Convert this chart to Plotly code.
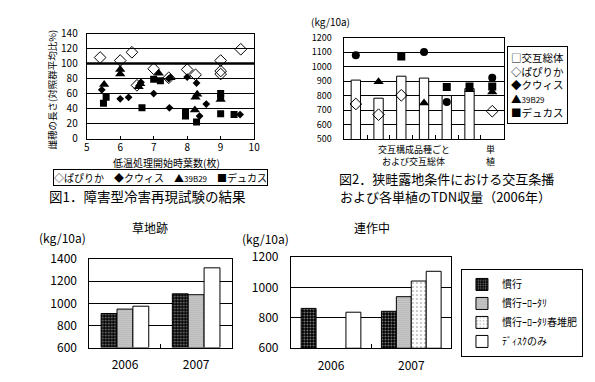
import plotly.graph_objects as go

W, H = 595, 382
def px(x): return x / W
def py(y): return 1 - y / H

FONT = "Noto Sans CJK JP"

# ---------------- Chart 1 data (図1) ----------------
papirika_x = [5.4, 6.0, 6.35, 6.5, 7.0, 7.45, 8.0, 8.25, 9.0, 9.0, 9.0, 9.6]
papirika_y = [108, 104, 115, 71, 93, 81, 92, 85, 104, 90, 86, 119]
quwis_x = [5.45, 6.0, 6.25, 6.62, 7.0, 7.45, 7.47, 8.0, 8.28, 8.37, 8.57, 9.58]
quwis_y = [65, 53, 55, 75, 60, 80, 41, 82, 74, 30, 46, 32]
b39_x = [5.52, 6.0, 6.0, 6.55, 6.6, 7.15, 7.5, 8.23, 8.25, 8.3, 9.0]
b39_y = [72, 92, 86, 69, 73, 87, 81, 38, 55, 59, 52]
ducas_x = [5.5, 5.58, 6.65, 7.0, 7.2, 7.95, 7.95, 8.28, 9.0, 9.0, 9.0, 9.4]
ducas_y = [47, 55, 41, 79, 77, 35, 30, 22, 60, 56, 33, 32]

# ---------------- Chart 2 data (図2) ----------------
c2_pos = [1, 2, 3, 4, 5, 6, 7]
c2_total = [907, 782, 934, 921, 800, 848, None]
c2_papirika = [742, 668, 802, None, None, None, 692]
c2_quwis = [1079, None, None, 1101, 755, None, 923]
c2_b39 = [None, 896, None, 749, None, 841, 824]
c2_ducas = [None, None, 1070, None, 859, 863, 863]

# ---------------- Bottom charts data ----------------
years = ["2006", "2007"]
sochi_kanko = [908, 1086]
sochi_rotary = [948, 1078]
sochi_disk = [974, 1321]
ren_kanko = [862, 843]
ren_rotary = [None, 939]
ren_compost = [None, 1042]
ren_disk = [837, 1106]

names_bottom = ["慣行", "慣行ｰﾛｰﾀﾘ", "慣行ｰﾛｰﾀﾘ春堆肥", "ﾃﾞｨｽｸのみ"]
BASE = 600

fig = go.Figure()

# Chart 1 scatter
fig.add_trace(go.Scatter(x=papirika_x, y=papirika_y, mode="markers", xaxis="x", yaxis="y",
                         marker=dict(symbol="diamond-open", size=9, color="black", line=dict(width=1)),
                         showlegend=False, name="ぱぴりか"))
fig.add_trace(go.Scatter(x=quwis_x, y=quwis_y, mode="markers", xaxis="x", yaxis="y",
                         marker=dict(symbol="diamond", size=6, color="black"),
                         showlegend=False, name="クウィス"))
fig.add_trace(go.Scatter(x=b39_x, y=b39_y, mode="markers", xaxis="x", yaxis="y",
                         marker=dict(symbol="triangle-up", size=9, color="black"),
                         showlegend=False, name="39B29"))
fig.add_trace(go.Scatter(x=ducas_x, y=ducas_y, mode="markers", xaxis="x", yaxis="y",
                         marker=dict(symbol="square", size=7, color="black"),
                         showlegend=False, name="デュカス"))

# Chart 2
fig.add_trace(go.Bar(x=c2_pos, y=c2_total, xaxis="x2", yaxis="y2", width=0.41,
                     marker=dict(color="white", line=dict(color="black", width=1)),
                     showlegend=False, name="交互総体"))
fig.add_trace(go.Scatter(x=c2_pos, y=c2_papirika, mode="markers", xaxis="x2", yaxis="y2",
                         marker=dict(symbol="diamond-open", size=9, color="black", line=dict(width=1)),
                         showlegend=False))
fig.add_trace(go.Scatter(x=c2_pos, y=c2_quwis, mode="markers", xaxis="x2", yaxis="y2",
                         marker=dict(symbol="circle", size=8, color="black"), showlegend=False))
fig.add_trace(go.Scatter(x=c2_pos, y=c2_b39, mode="markers", xaxis="x2", yaxis="y2",
                         marker=dict(symbol="triangle-up", size=9, color="black"), showlegend=False))
fig.add_trace(go.Scatter(x=c2_pos, y=c2_ducas, mode="markers", xaxis="x2", yaxis="y2",
                         marker=dict(symbol="square", size=8, color="black"), showlegend=False))

# bar patterns
pat = [
    dict(shape=".", bgcolor="black", fgcolor="white", size=3, solidity=0.3),
    dict(shape=".", bgcolor="white", fgcolor="black", size=2, solidity=0.55),
    dict(shape=".", bgcolor="white", fgcolor="black", size=4, solidity=0.12),
    dict(shape="", bgcolor="white", fgcolor="white"),
]

def rel(vals):
    return [None if v is None else v - BASE for v in vals]

# Chart 3 (草地跡)
w3 = 0.223
for vals, pi, off in [(sochi_kanko, 0, -0.335), (sochi_rotary, 1, -0.112), (sochi_disk, 3, 0.111)]:
    fig.add_trace(go.Bar(x=years, y=rel(vals), base=BASE, xaxis="x3", yaxis="y3", width=w3, offset=off,
                         marker=dict(color="white", pattern=pat[pi], line=dict(color="black", width=1)),
                         showlegend=False, name=names_bottom[pi]))

# Chart 4 (連作中)
w4 = 0.186
for vals, pi, off in [(ren_kanko, 0, -0.372), (ren_rotary, 1, -0.186), (ren_compost, 2, 0.0), (ren_disk, 3, 0.186)]:
    fig.add_trace(go.Bar(x=years, y=rel(vals), base=BASE, xaxis="x4", yaxis="y4", width=w4, offset=off,
                         marker=dict(color="white", pattern=pat[pi], line=dict(color="black", width=1)),
                         showlegend=True, name=names_bottom[pi]))

def tf(size):
    return dict(family=FONT, size=size, color="black")

axis_common = dict(showline=True, mirror=True, linecolor="black", linewidth=1, zeroline=False)

fig.update_layout(
    width=W, height=H, margin=dict(l=0, r=0, t=0, b=0),
    paper_bgcolor="white", plot_bgcolor="white",
    barmode="overlay",
    font=dict(family=FONT, color="black"),
    xaxis=dict(domain=[px(85), px(255)], anchor="y", range=[5, 10], dtick=1, ticks="inside", ticklen=3,
               tickcolor="black", showgrid=False, tickfont=tf(10), ticklabelstandoff=-1, **axis_common),
    yaxis=dict(domain=[py(134.6), py(24.6)], anchor="x", range=[0, 140], dtick=20, showgrid=True,
               gridcolor="black", gridwidth=1, ticks="", ticklabelstandoff=6, tickfont=tf(10), **axis_common),
    xaxis2=dict(domain=[px(346.7), px(508.3)], anchor="y2", range=[0.5, 7.5], tickvals=[1.5, 2.5, 3.5, 4.5, 5.5, 6.5],
                ticktext=[""] * 6, ticks="inside", ticklen=4, tickcolor="black", showgrid=False, **axis_common),
    yaxis2=dict(domain=[py(135), py(29)], anchor="x2", range=[500, 1200], dtick=100, showgrid=True,
                gridcolor="black", gridwidth=1, ticks="", ticklabelstandoff=10, tickfont=tf(9), **axis_common),
    xaxis3=dict(domain=[px(87.7), px(232.3)], anchor="y3", type="category", tickson="boundaries",
                ticks="inside", ticklen=4, tickcolor="black", showgrid=False, ticklabelstandoff=6,
                tickfont=tf(12), **axis_common),
    yaxis3=dict(domain=[py(353.3), py(260.7)], anchor="x3", range=[600, 1400], dtick=200, showgrid=True,
                gridcolor="black", gridwidth=1, ticks="", ticklabelstandoff=9, tickfont=tf(12), **axis_common),
    xaxis4=dict(domain=[px(292.3), px(455.3)], anchor="y4", type="category", tickson="boundaries",
                ticks="inside", ticklen=4, tickcolor="black", showgrid=False, ticklabelstandoff=6,
                tickfont=tf(12), **axis_common),
    yaxis4=dict(domain=[py(354), py(258.5)], anchor="x4", range=[600, 1200], dtick=200, showgrid=True,
                gridcolor="black", gridwidth=1, ticks="", ticklabelstandoff=9, tickfont=tf(12), **axis_common),
    legend=dict(x=px(465), y=py(271), xanchor="left", yanchor="top", bordercolor="black", borderwidth=1,
                bgcolor="white", font=tf(10), tracegroupgap=0,
                itemwidth=30, traceorder="normal"),
)

# thick reference line at 100 in chart 1
fig.add_shape(type="line", xref="x domain", yref="y", x0=0, x1=1, y0=100, y1=100,
              line=dict(color="black", width=2.5))

ann = []
def A(text, x, y, size=10, **kw):
    d = dict(text=text, x=px(x), y=py(y), xref="paper", yref="paper", showarrow=False,
             xanchor="center", yanchor="middle", font=tf(size))
    d.update(kw)
    ann.append(d)

# Chart 1 texts
A("雌穂の長さ(対照群平均比%)", 50, 83, size=9.5, textangle=-90)
A("低温処理開始時葉数(枚)", 166, 159.5, size=10)
A("◇ぱぴりか　◆クウィス　▲<span style='font-size:8px'>39B29</span>　■デュカス", 160, 175, size=10,
  bordercolor="black", borderwidth=1, borderpad=0, bgcolor="white")
A("図1．障害型冷害再現試験の結果", 147, 195, size=13.5)

# Chart 2 texts
A("(kg/10a)", 333, 12, size=10)
A("交互構成品種ごと", 417, 145.5, size=9)
A("および交互総体", 417, 159, size=9)
A("単", 495, 145.5, size=9)
A("植", 495, 159, size=9)
A("□交互総体<br>◇ぱぴりか<br>◆クウィス<br>▲<span style='font-size:8px'>39B29</span><br>■デュカス", 543, 79, size=10.5,
  align="left", bordercolor="black", borderwidth=1, borderpad=3, bgcolor="white")
A("図2．狭畦露地条件における交互条播", 450, 176.5, size=13)
A("および各単植のTDN収量（2006年）", 449, 195.5, size=13)

# Bottom texts
A("草地跡", 149, 228, size=12)
A("(kg/10a)", 60, 238, size=12)
A("連作中", 375, 228, size=12)
A("(kg/10a)", 267, 239, size=12)

fig.update_layout(annotations=ann)

fig.write_html("out.html",
               config={"displayModeBar": False},
               post_script="document.body.style.margin='0';document.body.style.padding='0';"
                           "document.body.style.overflow='hidden';")
